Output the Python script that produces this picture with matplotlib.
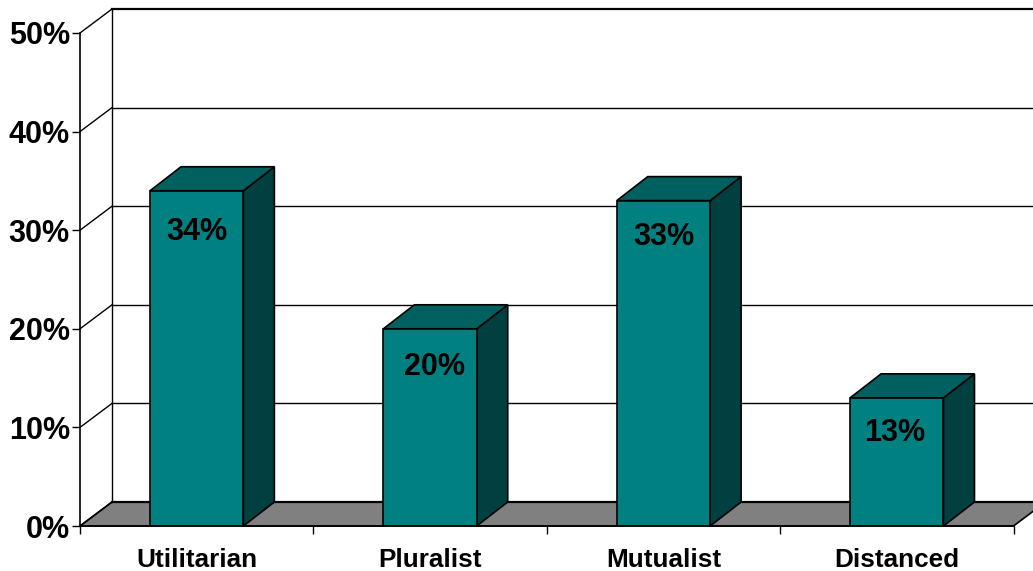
import matplotlib
matplotlib.use("Agg")
import matplotlib.pyplot as plt
from matplotlib.patches import Polygon

plt.rcParams['font.family'] = ['Liberation Sans', 'DejaVu Sans']
plt.rcParams['font.weight'] = 'bold'

categories = ["Utilitarian", "Pluralist", "Mutualist", "Distanced"]
values = [34, 20, 33, 13]
value_labels = ["34%", "20%", "33%", "13%"]
y_ticks = [0, 10, 20, 30, 40, 50]
y_tick_labels = ["0%", "10%", "20%", "30%", "40%", "50%"]

W, H = 1033, 571
fig = plt.figure(figsize=(W / 100, H / 100), dpi=100, facecolor="white")
L, R, T, B = 80.0, 1013.5, 33.0, 526.0
ax = fig.add_axes([L / W, 1 - B / H, (R - L) / W, (B - T) / H])
ax.set_xlim(0, 4)
ax.set_ylim(0, 50)
ax.patch.set_visible(False)

PX = 72 / 100                 # points per pixel
DX = 32 / ((R - L) / 4)       # wall depth in category units
DY = 24 / ((B - T) / 50)      # depth in percent units
BAR_DX = 31 / ((R - L) / 4)   # bar depth in category units
BAR_W = 0.4
LW = 1.2
label_shift_px = [(0, -41), (4, -38), (0, -36), (-2, -35)]

# floor
ax.add_patch(Polygon([(0, 0), (4, 0), (4 + DX, DY), (DX, DY)], closed=True,
                     facecolor="#808080", edgecolor="black", lw=LW,
                     clip_on=False, zorder=1))
# back wall gridlines, side wall diagonals
for t in y_ticks:
    ax.plot([0, DX], [t, t + DY], color="black", lw=1.0, clip_on=False, zorder=1.5)
    ax.plot([DX, 4 + DX], [t + DY, t + DY], color="black",
            lw=1.6 if t in (0, 50) else 1.0, clip_on=False, zorder=1.5)
ax.plot([DX, DX], [DY, 50 + DY], color="black", lw=1.0, clip_on=False, zorder=1.5)

# bars
for i, (v, lab) in enumerate(zip(values, value_labels)):
    x0 = i + 0.5 - BAR_W / 2
    x1 = x0 + BAR_W
    ax.add_patch(Polygon([(x1, 0), (x1 + BAR_DX, DY), (x1 + BAR_DX, v + DY), (x1, v)], closed=True,
                         facecolor="#004040", edgecolor="black", lw=LW, zorder=3,
                         clip_on=False))
    ax.add_patch(Polygon([(x0, v), (x1, v), (x1 + BAR_DX, v + DY), (x0 + BAR_DX, v + DY)], closed=True,
                         facecolor="#006060", edgecolor="black", lw=LW, zorder=3,
                         clip_on=False))
    ax.bar(i + 0.5, v, width=BAR_W, color="#008080", edgecolor="black", lw=LW, zorder=4)
    sx, sy = label_shift_px[i]
    ax.annotate(lab, (i + 0.5, v), xytext=(sx * PX, sy * PX), textcoords="offset points",
                ha="center", va="center", fontsize=22, fontweight="bold",
                color="black", zorder=5)

# axes
for s in ("top", "right"):
    ax.spines[s].set_visible(False)
for s in ("left", "bottom"):
    ax.spines[s].set_linewidth(1.2)
    ax.spines[s].set_zorder(6)
ax.set_yticks(y_ticks)
ax.set_yticklabels(y_tick_labels, fontsize=22, fontweight="bold")
ax.set_xticks(range(5))
ax.set_xticklabels([])
ax.set_xticks([i + 0.5 for i in range(4)], minor=True)
ax.set_xticklabels(categories, minor=True, fontsize=18.8, fontweight="bold")
ax.tick_params(axis="y", length=5.8, width=1.0, pad=1.5, color="black")
ax.tick_params(axis="x", which="major", length=5.8, width=1.0)
ax.tick_params(axis="x", which="minor", length=0, pad=16)

fig.savefig("out.png", dpi=100)
